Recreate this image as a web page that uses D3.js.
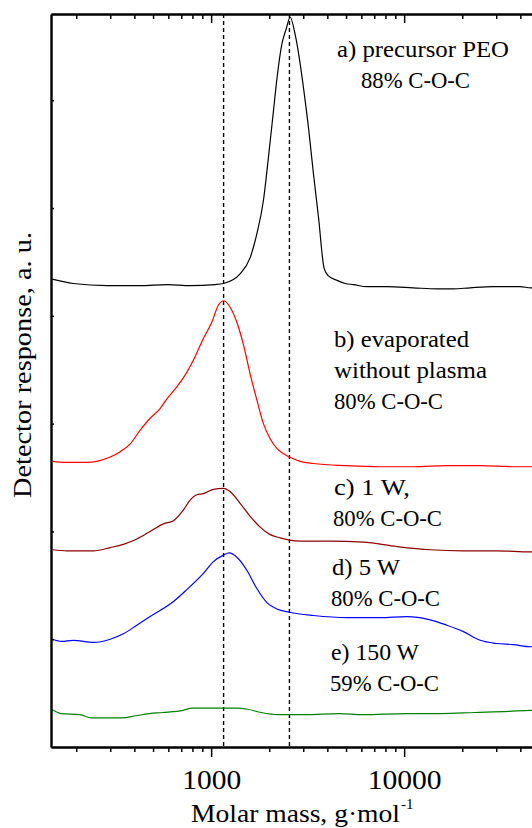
<!DOCTYPE html>
<html><head><meta charset="utf-8">
<script src="https://cdn.jsdelivr.net/npm/d3@7/dist/d3.min.js"></script>
<style>html,body{margin:0;padding:0;background:#fff;} svg{display:block;}</style>
</head><body><svg id="c" width="532" height="828"></svg>
<script>
// ---------- DATA (molar mass in g/mol, detector response in a.u.) ----------
const xMajorTicks = [1000, 10000];
const xTickLabels = ["1000", "10000"];
const yTicks = [1, 2, 3, 4, 5, 6];
const markerMasses = [1160, 2545];

const seriesA = [[150,4.34],[193,4.30],[289,4.28],[429,4.28],[592,4.29],[778,4.28],[1049,4.29],[1158,4.30],[1413,4.39],[1593,4.54],[1725,4.76],[1866,5.07],[1981,5.47],[2103,5.90],[2206,6.24],[2325,6.52],[2447,6.66],[2567,6.77],[2724,6.61],[2858,6.40],[3007,6.12],[3192,5.75],[3388,5.32],[3597,4.92],[3850,4.44],[4054,4.37],[4480,4.33],[4946,4.30],[5462,4.29],[6409,4.27],[8137,4.27],[11136,4.26],[14770,4.25],[17950,4.25],[21980,4.26],[28920,4.27],[39900,4.27],[45350,4.26],[53780,4.26]];
const seriesB = [[151,2.65],[175,2.64],[201,2.64],[227,2.64],[256,2.65],[300,2.69],[338,2.74],[380,2.81],[429,2.94],[483,3.05],[544,3.14],[590,3.23],[664,3.34],[733,3.45],[810,3.59],[912,3.79],[1008,3.94],[1091,4.10],[1164,4.14],[1254,4.08],[1359,3.94],[1471,3.73],[1593,3.46],[1725,3.22],[1866,3.00],[2022,2.86],[2190,2.77],[2370,2.72],[2545,2.69],[2892,2.65],[3388,2.63],[5047,2.61],[7509,2.60],[11175,2.60],[16640,2.61],[24760,2.61],[36840,2.60],[53780,2.60]];
const seriesC = [[151,1.83],[179,1.82],[218,1.82],[246,1.82],[300,1.85],[351,1.88],[412,1.93],[483,2.00],[566,2.07],[638,2.10],[719,2.20],[778,2.29],[843,2.34],[912,2.35],[1028,2.39],[1158,2.40],[1254,2.37],[1413,2.26],[1593,2.14],[1794,2.04],[2022,1.97],[2278,1.94],[2545,1.92],[2892,1.91],[4137,1.91],[6153,1.90],[9167,1.86],[13640,1.83],[20290,1.82],[30220,1.82],[44970,1.81],[53780,1.81]];
const seriesD = [[151,1.00],[168,0.98],[193,0.99],[246,0.97],[300,1.00],[351,1.05],[412,1.13],[483,1.21],[638,1.35],[748,1.46],[912,1.61],[1028,1.72],[1158,1.78],[1240,1.80],[1359,1.76],[1531,1.64],[1725,1.47],[1944,1.34],[2190,1.28],[2545,1.25],[3388,1.22],[5047,1.20],[7509,1.20],[10320,1.21],[13640,1.18],[16640,1.13],[20290,1.07],[24760,0.99],[30220,0.96],[36840,0.95],[44970,0.93],[53780,0.93]];
const seriesE = [[149,0.35],[167,0.31],[209,0.30],[240,0.27],[294,0.27],[346,0.27],[407,0.29],[478,0.31],[562,0.32],[716,0.34],[793,0.36],[913,0.36],[1164,0.36],[1369,0.36],[1546,0.35],[1815,0.32],[2224,0.30],[3069,0.30],[4606,0.31],[6109,0.30],[10340,0.31],[15500,0.31],[23220,0.32],[34790,0.33],[45400,0.34],[53780,0.34]];

const seriesNames = ["a", "b", "c", "d", "e"];
const labelLines = [
  ["a) precursor PEO", "88% C-O-C"],
  ["b) evaporated", "without plasma", "80% C-O-C"],
  ["c) 1 W,", "80% C-O-C"],
  ["d) 5 W", "80% C-O-C"],
  ["e) 150 W", "59% C-O-C"]
];
const xTitle = "Molar mass, g\u00B7mol";
const xTitleSup = "-1";
const yTitle = "Detector response, a. u.";

// ---------- LAYOUT ----------
const FONT = "'Liberation Serif','Times New Roman',serif";
const colors = ["#000000", "#ff0000", "#8b0000", "#0000ff", "#008000"];
const plotL = 51, plotT = 14, plotB = 747, decade = 193;
const xMin = 148, xMax = 56000;
const x = d3.scaleLog().domain([xMin, xMax]).range([plotL, plotL + decade * Math.log10(xMax / xMin)]);
const y = d3.scaleLinear().domain([0, 6.8]).range([plotB, plotT]);
const plotR = x.range()[1];

const svg = d3.select("#c");
svg.append("rect").attr("width", 532).attr("height", 828).attr("fill", "#fff");

svg.append("defs").append("clipPath").attr("id", "clip")
  .append("rect").attr("x", plotL).attr("y", plotT).attr("width", plotR - plotL).attr("height", plotB - plotT);

// dashed markers
svg.append("g").selectAll("line").data(markerMasses).join("line")
  .attr("x1", d => x(d)).attr("x2", d => x(d))
  .attr("y1", plotT).attr("y2", plotB)
  .attr("stroke", "#000").attr("stroke-width", 1.4).attr("stroke-dasharray", "4,3");

// curves
const line = d3.line().x(d => x(d[0])).y(d => y(d[1])).curve(d3.curveMonotoneX);
const allSeries = [seriesA, seriesB, seriesC, seriesD, seriesE];
svg.append("g").attr("clip-path", "url(#clip)").selectAll("path").data(allSeries).join("path")
  .attr("d", line).attr("fill", "none")
  .attr("stroke", (d, i) => colors[i]).attr("stroke-width", 1.2);

// axes
const minorTicks = x.ticks().filter(t => !xMajorTicks.includes(t));
function styleAxis(g) {
  g.select(".domain").attr("stroke", "#000").attr("stroke-width", 2);
  g.selectAll(".tick line").attr("stroke", "#000").attr("stroke-width", 1.5);
}
// bottom
svg.append("g").attr("transform", `translate(0,${plotB})`)
  .call(d3.axisBottom(x).tickValues(minorTicks).tickSizeInner(5).tickSizeOuter(0).tickFormat(""))
  .call(styleAxis);
const tickLabelWidths = [59, 74];
const bottomMajor = svg.append("g").attr("transform", `translate(0,${plotB})`)
  .call(d3.axisBottom(x).tickValues(xMajorTicks).tickSizeInner(10).tickSizeOuter(0)
    .tickFormat((d, i) => xTickLabels[i]))
  .call(styleAxis);
bottomMajor.selectAll(".tick text")
  .attr("y", 42).attr("dy", 0).attr("font-family", FONT).attr("font-size", 27)
  .attr("fill", "#000").attr("text-anchor", "middle")
  .attr("textLength", (d, i) => tickLabelWidths[i]).attr("lengthAdjust", "spacingAndGlyphs");
// top
svg.append("g").attr("transform", `translate(0,${plotT})`)
  .call(d3.axisTop(x).tickValues(minorTicks).tickSizeInner(-5).tickSizeOuter(0).tickFormat(""))
  .call(styleAxis);
svg.append("g").attr("transform", `translate(0,${plotT})`)
  .call(d3.axisTop(x).tickValues(xMajorTicks).tickSizeInner(-9).tickSizeOuter(0).tickFormat(""))
  .call(styleAxis);
// left
svg.append("g").attr("transform", `translate(${plotL},0)`)
  .call(d3.axisLeft(y).tickValues(yTicks).tickSizeInner(-3).tickSizeOuter(0).tickFormat(""))
  .call(styleAxis)
  .call(g => g.select(".domain").attr("stroke-width", 2.4));

// text helper: fixed width via textLength
function stext(str, tx, ty, size, width, anchor, rot) {
  const t = svg.append("text")
    .attr("transform", `translate(${tx},${ty})` + (rot ? ` rotate(${rot})` : ""))
    .attr("font-family", FONT).attr("font-size", size).attr("fill", "#000")
    .attr("text-anchor", anchor || "start").text(str);
  if (width) t.attr("textLength", width).attr("lengthAdjust", "spacingAndGlyphs");
  return t;
}

// annotations: [x, baseline, width]
const labelPos = [
  [[337, 57, 172], [361, 88, 109]],
  [[334, 347, 135], [334, 378, 153], [334, 409, 109]],
  [[334, 495, 76], [333, 526, 109]],
  [[332, 575, 68], [331, 606, 109]],
  [[331, 660, 88], [330, 691, 109]]
];
labelLines.forEach((lines, i) => {
  lines.forEach((s, j) => stext(s, labelPos[i][j][0], labelPos[i][j][1], 24, labelPos[i][j][2], "start"));
});

// axis titles
stext(xTitle, 191, 822, 26, 209, "start");
stext(xTitleSup, 401, 809, 15, null, "start");
stext(yTitle, 31, 365, 26, 266, "middle", -90);
</script></body></html>
